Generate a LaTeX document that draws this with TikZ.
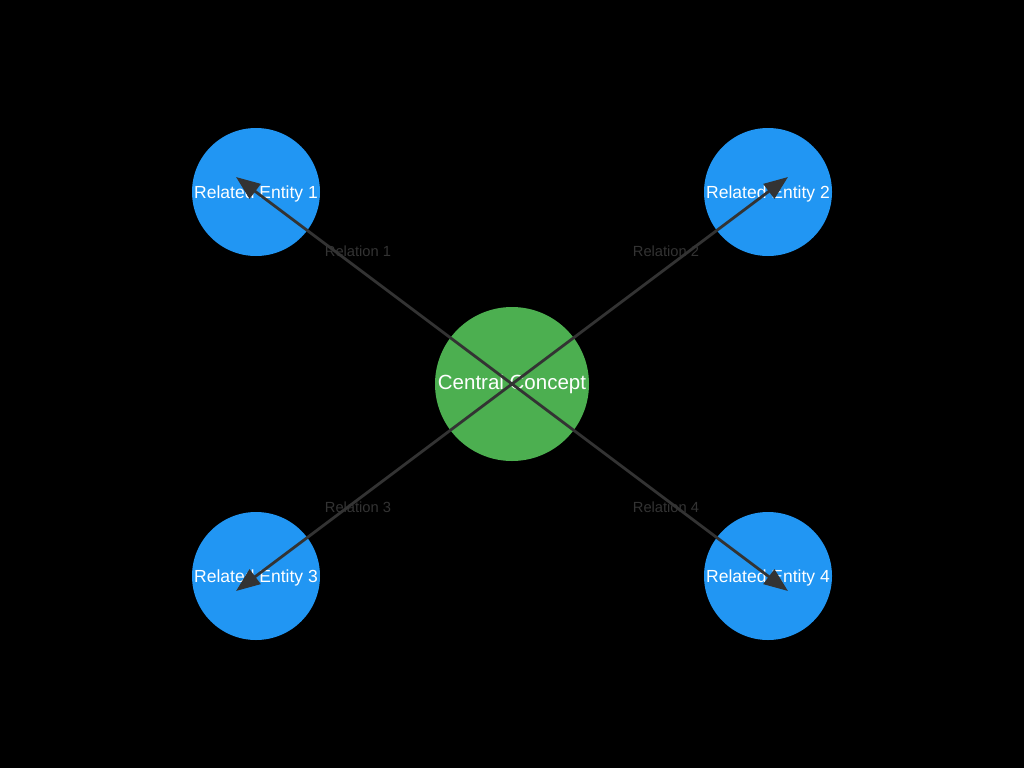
\documentclass[tikz,border=0pt]{standalone}
\usepackage{fontspec}
\setmainfont{Liberation Sans}
\usetikzlibrary{arrows.meta}
\definecolor{bluec}{HTML}{2196F3}
\definecolor{greenc}{HTML}{4CAF50}
\definecolor{linec}{HTML}{333333}
\begin{document}
\begin{tikzpicture}[x=1pt,y=-1pt,
  entity/.style={circle,fill=bluec,minimum size=128pt,inner sep=0pt,text=white,font=\fontsize{17.5pt}{20pt}\selectfont},
  central/.style={circle,fill=greenc,minimum size=154pt,inner sep=0pt,text=white,font=\fontsize{20.5pt}{24pt}\selectfont},
  rel/.style={text=linec,font=\fontsize{14.7pt}{17pt}\selectfont,inner sep=0pt},
  link/.style={draw=linec,line width=2.8pt,-{Triangle[length=24pt,width=18pt]}}]
\fill[black] (0,0) rectangle (1024,768);
\useasboundingbox (0,0) rectangle (1024,768);
\node[central] (c) at (512,384) {\raisebox{-5.5pt}[0pt][0pt]{Central Concept}};
\node[entity] (e1) at (256,192) {\raisebox{-6.3pt}[0pt][0pt]{Related Entity 1}};
\node[entity] (e2) at (768,192) {\raisebox{-6.3pt}[0pt][0pt]{Related Entity 2}};
\node[entity] (e3) at (256,576) {\raisebox{-6.3pt}[0pt][0pt]{Related Entity 3}};
\node[entity] (e4) at (768,576) {\raisebox{-6.3pt}[0pt][0pt]{Related Entity 4}};
\node[rel] (r1) at (358,251) {Relation 1};
\node[rel] (r2) at (666,251) {Relation 2};
\node[rel] (r3) at (358,507) {Relation 3};
\node[rel] (r4) at (666,507) {Relation 4};
\coordinate (t1) at (236,177);
\coordinate (t2) at (788,177);
\coordinate (t3) at (236,591);
\coordinate (t4) at (788,591);
\draw[link] (c.center) -- (t1);
\draw[link] (c.center) -- (t2);
\draw[link] (c.center) -- (t3);
\draw[link] (c.center) -- (t4);
\end{tikzpicture}
\end{document}
